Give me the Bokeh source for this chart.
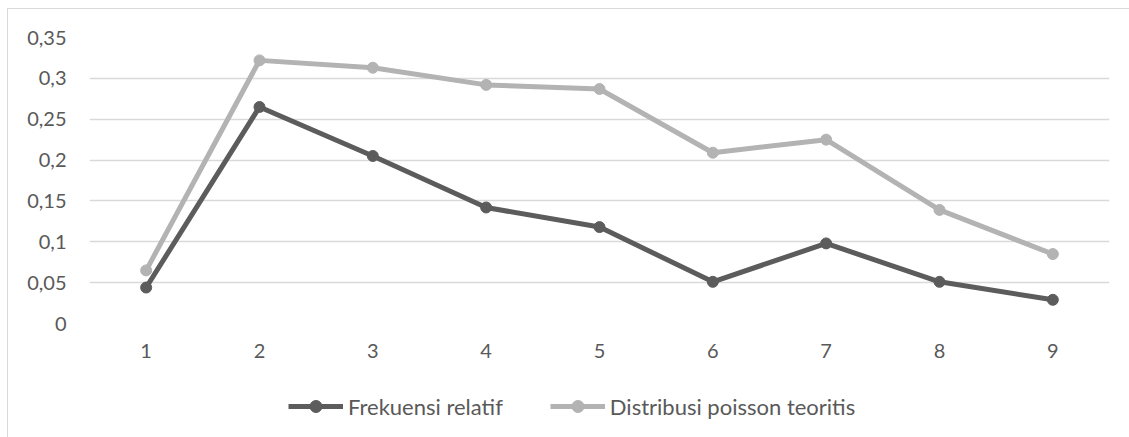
from bokeh.plotting import figure
from bokeh.layouts import column
from bokeh.models import FixedTicker, Legend, LegendItem, ColumnDataSource
from bokeh.embed import file_html
from bokeh.resources import INLINE

categories = [1, 2, 3, 4, 5, 6, 7, 8, 9]
frekuensi_relatif = [0.044, 0.265, 0.205, 0.142, 0.118, 0.051, 0.098, 0.051, 0.029]
distribusi_poisson = [0.065, 0.322, 0.313, 0.292, 0.287, 0.209, 0.225, 0.139, 0.085]
y_ticks = [0, 0.05, 0.1, 0.15, 0.2, 0.25, 0.3, 0.35]
y_tick_labels = ["0", "0,05", "0,1", "0,15", "0,2", "0,25", "0,3", "0,35"]
x_tick_labels = ["1", "2", "3", "4", "5", "6", "7", "8", "9"]
series_names = ["Frekuensi relatif", "Distribusi poisson teoritis"]

FONT = "Lato"
DARK = "#5c5c5c"
LIGHT = "#b3b3b3"
GRID = "#d9d9d9"
TXT = "#595959"

p = figure(width=1121, height=370, output_backend="svg", toolbar_location=None,
           x_range=(0.5, 9.5), y_range=(0, 0.35),
           min_border_left=81, min_border_right=20, min_border_top=28, min_border_bottom=56)
p.outline_line_color = None
p.background_fill_color = "white"

p.xaxis.ticker = FixedTicker(ticks=categories)
p.xaxis.major_label_overrides = {c: l for c, l in zip(categories, x_tick_labels)}
p.yaxis.ticker = FixedTicker(ticks=y_ticks)
p.yaxis.major_label_overrides = {t: l for t, l in zip(y_ticks, y_tick_labels)}

for ax in (p.xaxis, p.yaxis):
    ax.axis_line_color = None
    ax.major_tick_line_color = None
    ax.minor_tick_line_color = None
    ax.major_label_text_font = FONT
    ax.major_label_text_font_size = "20px"
    ax.major_label_text_color = TXT
p.yaxis.major_label_standoff = 17
p.xaxis.major_label_standoff = 14

p.xgrid.grid_line_color = None
p.ygrid.grid_line_color = GRID
p.ygrid.grid_line_width = 1.5

src = ColumnDataSource(dict(x=categories, a=frekuensi_relatif, b=distribusi_poisson))
p.line("x", "b", source=src, line_color=LIGHT, line_width=5)
p.scatter("x", "b", source=src, size=11, fill_color=LIGHT, line_color=LIGHT)
p.line("x", "a", source=src, line_color=DARK, line_width=5)
p.scatter("x", "a", source=src, size=11, fill_color=DARK, line_color=DARK)

# legend strip below the chart (its data lies outside this strip's range, so only the legend shows)
pl = figure(width=1121, height=58, output_backend="svg", toolbar_location=None,
            x_range=(100, 101), y_range=(100, 101), x_axis_location=None, y_axis_location=None,
            min_border=0)
pl.outline_line_color = None
pl.xgrid.grid_line_color = None
pl.ygrid.grid_line_color = None
g1 = pl.line("x", "a", source=src, line_color=DARK, line_width=5)
m1 = pl.scatter("x", "a", source=src, size=11, fill_color=DARK, line_color=DARK)
g2 = pl.line("x", "b", source=src, line_color=LIGHT, line_width=5)
m2 = pl.scatter("x", "b", source=src, size=11, fill_color=LIGHT, line_color=LIGHT)

legend = Legend(items=[LegendItem(label=series_names[0], renderers=[g1, m1]),
                       LegendItem(label=series_names[1], renderers=[g2, m2])],
                orientation="horizontal", location=(199, 16),
                glyph_width=55, glyph_height=30, label_standoff=5, spacing=47,
                padding=0, margin=0, border_line_color=None, background_fill_alpha=0,
                label_text_font=FONT, label_text_font_size="22px", label_text_color=TXT)
pl.add_layout(legend, "center")

layout = column(p, pl, spacing=0)
layout.styles = {"border-top": "1px solid #d9d9d9", "border-left": "1px solid #d9d9d9",
                 "margin-left": "7px", "margin-top": "8px"}

open("out.html", "w").write(file_html(layout, INLINE))
